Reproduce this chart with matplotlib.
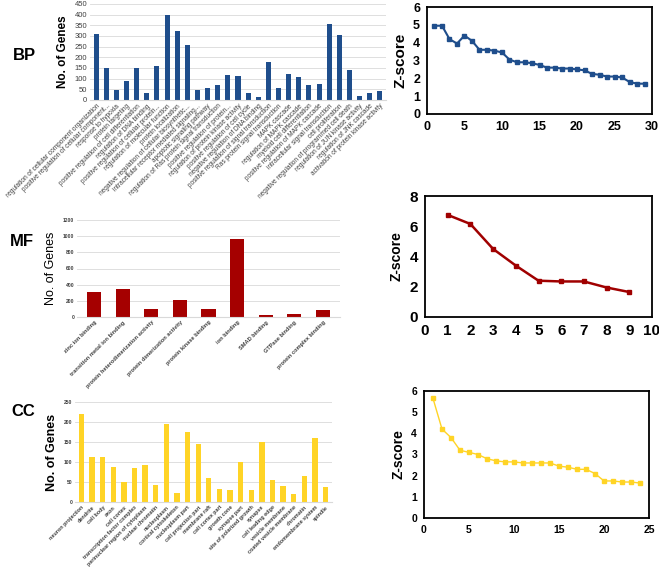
import numpy as np
import matplotlib.pyplot as plt

plt.rcParams['font.family'] = ['Liberation Sans', 'DejaVu Sans']

# ---- data ----
bp_terms = ["regulation of cellular component organization",
            "positive regulation of cellular component...",
            "response to hypoxia", "protein targeting",
            "positive regulation of cell differentiation",
            "regulation of DNA binding",
            "positive regulation of cellular protein...",
            "regulation of molecular function", "protein localization",
            "negative regulation of cellular biosynthetic...",
            "intracellular receptor mediated signaling...",
            "apoptotic signaling pathway",
            "regulation of Ras protein signal transduction",
            "positive regulation of protein...",
            "regulation of protein kinase activity",
            "positive regulation of cell cycle",
            "negative regulation of DNA binding",
            "positive regulation of signal transduction",
            "Ras protein signal transduction", "MAPK cascade",
            "regulation of MAPK cascade", "myeloid cell differentiation",
            "positive regulation of MAPK cascade",
            "intracellular signal transduction", "cell proliferation",
            "negative regulation of programmed cell death",
            "regulation of JUN kinase activity", "regulation of JNK cascade",
            "activation of protein kinase activity"]
bp_genes = [310, 152, 47, 90, 150, 32, 160, 400, 325, 258, 47, 57, 72, 116,
            113, 35, 15, 178, 55, 122, 108, 68, 73, 355, 305, 140, 20, 35, 40]
bp_z = [4.95, 4.95, 4.2, 3.95, 4.4, 4.1, 3.6, 3.6, 3.55, 3.45, 3.05, 2.9,
        2.9, 2.85, 2.75, 2.6, 2.6, 2.55, 2.55, 2.5, 2.45, 2.25, 2.2, 2.1,
        2.1, 2.05, 1.8, 1.7, 1.7]

mf_terms = ["zinc ion binding", "transition metal ion binding",
            "protein heterodimerization activity",
            "protein dimerization activity", "protein kinase binding",
            "ion binding", "SMAD binding", "GTPase binding",
            "protein complex binding"]
mf_genes = [310, 345, 105, 215, 95, 965, 25, 40, 90]
mf_z = [6.75, 6.15, 4.5, 3.4, 2.4, 2.35, 2.35, 1.95, 1.65]

cc_terms = ["neuron projection", "dendrite", "cell body", "axon", "cell cortex",
            "transcription factor complex",
            "perinuclear region of cytoplasm", "nuclear chromatin",
            "nucleoplasm", "cortical cytoskeleton", "nucleoplasm part",
            "cell projection part", "membrane raft", "cell cortex part",
            "growth cone", "synapse part", "site of polarized growth",
            "synapse", "cell leading edge", "vesicle membrane",
            "coated vesicle membrane", "chromatin", "endomembrane system",
            "spindle"]
cc_genes = [220, 113, 113, 88, 51, 86, 92, 43, 196, 23, 176, 145, 59, 32,
            29, 101, 29, 149, 55, 41, 19, 65, 161, 37]
cc_z = [5.65, 4.2, 3.8, 3.2, 3.1, 3.0, 2.8, 2.7, 2.65, 2.65, 2.6, 2.6, 2.6,
        2.6, 2.45, 2.4, 2.3, 2.3, 2.1, 1.75, 1.75, 1.7, 1.7, 1.65]

W, H = 659, 567
fig = plt.figure(figsize=(W / 100, H / 100), dpi=100)


def px_axes(l, t, r, b):
    return fig.add_axes([l / W, 1 - b / H, (r - l) / W, (b - t) / H])


def bar_panel(rect, terms, genes, color, ymax, ystep, tick_fs, lab_fs,
              ylab_fs, ylab_bold, width, tick_bold):
    ax = px_axes(*rect)
    x = np.arange(len(terms))
    ax.bar(x, genes, width=width, color=color, zorder=2)
    ax.set_ylim(0, ymax)
    ax.set_xlim(-0.6, len(terms) - 0.4)
    ax.set_yticks(np.arange(0, ymax + 1, ystep))
    ax.yaxis.grid(True, color='#d9d9d9', lw=0.6, zorder=0)
    for s in ['top', 'right', 'left']:
        ax.spines[s].set_visible(False)
    ax.spines['bottom'].set_color('#d9d9d9')
    ax.tick_params(length=0, labelsize=tick_fs, colors='#404040', pad=2)
    ax.set_xticks(x)
    ax.set_xticklabels(terms, rotation=45, ha='right', rotation_mode='anchor',
                       fontsize=lab_fs, fontweight='bold' if tick_bold else 'normal')
    for t in ax.get_yticklabels():
        t.set_fontweight('bold' if tick_bold else 'normal')
    ax.set_ylabel('No. of Genes', fontsize=ylab_fs,
                  fontweight='bold' if ylab_bold else 'normal', labelpad=4)
    return ax


def line_panel(rect, z, color, xmax, xstep, ymax, ystep, tick_fs, ylab_fs, lw):
    ax = px_axes(*rect)
    x = np.arange(1, len(z) + 1)
    ax.plot(x, z, color=color, lw=lw, marker='s', ms=2.2)
    ax.set_xlim(0, xmax)
    ax.set_ylim(0, ymax)
    ax.set_xticks(np.arange(0, xmax + 1, xstep))
    ax.set_yticks(np.arange(0, ymax + 0.01, ystep))
    for s in ax.spines.values():
        s.set_linewidth(1.3)
    ax.tick_params(length=0, labelsize=tick_fs, pad=5)
    for t in ax.get_xticklabels() + ax.get_yticklabels():
        t.set_fontweight('bold')
    ax.set_ylabel('Z-score', fontsize=ylab_fs, fontweight='bold')
    return ax


# BP
fig.text(24 / W, 1 - 56 / H, 'BP', fontsize=12, fontweight='bold', ha='center', va='center')
bar_panel((90, 4, 386, 100), bp_terms, bp_genes, '#1f4e8c', 450, 50,
          5.5, 4.7, 8.5, True, 0.5, False)
line_panel((427, 7, 652, 114), bp_z, '#1f4e8c', 30, 5, 6, 1, 9, 11, 1.5)

# MF
fig.text(22 / W, 1 - 242 / H, 'MF', fontsize=12, fontweight='bold', ha='center', va='center')
bar_panel((77, 220, 340, 317), mf_terms, mf_genes, '#a50000', 1200, 200,
          3.6, 4.1, 9, False, 0.5, True)
line_panel((425, 196, 652, 317), mf_z, '#a00000', 10, 1, 8, 2, 11, 10, 1.8)

# CC
fig.text(23 / W, 1 - 412 / H, 'CC', fontsize=12, fontweight='bold', ha='center', va='center')
bar_panel((75, 402, 332, 502), cc_terms, cc_genes, '#ffd426', 250, 50,
          3.6, 3.9, 9, True, 0.5, True)
line_panel((424, 391, 649, 518), cc_z, '#ffd426', 25, 5, 6, 1, 7.5, 10, 1.0)

fig.savefig('out.png', dpi=100)
